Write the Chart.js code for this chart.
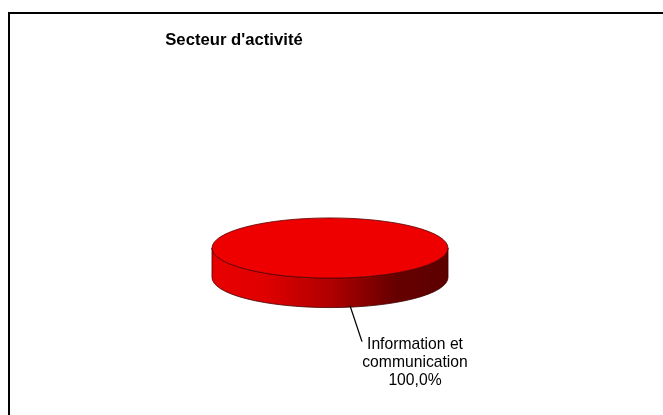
<!DOCTYPE html>
<html>
<head>
<meta charset="utf-8">
<script src="https://cdn.jsdelivr.net/npm/chart.js@4/dist/chart.umd.min.js"></script>
<style>
    body { margin: 0; background: #fff; }
    #frame {
        position: absolute; left: 8px; top: 12px; width: 700px; height: 500px;
        border: 2px solid #000; box-sizing: border-box;
    }
    #holder { position: absolute; left: 0; top: 0; width: 663px; height: 415px; }
</style>
</head>
<body>
<div id="frame"></div>
<div id="holder"><canvas id="pie-chart" width="663" height="415"></canvas></div>
<script>
// data
const sectors = ["Information et communication"];
const shares = [100];
const slice_colors = ["#EE0000"];
const title_text = "Secteur d'activité";

// how flat the pie looks and how thick it is (relative to radius)
const tilt = 0.255;
const thickness = 0.25;

let font_family = "'Liberation Sans', Arial, sans-serif";

/**
 * Fake the Excel 3D look: squash the pie and draw its side.
 */
const pie3d = {
    id: "pie3d",
    beforeDatasetsDraw(chart) {
        let arc = chart.getDatasetMeta(0).data[0];
        let ctx = chart.ctx;
        let cx = arc.x, cy = arc.y, r = arc.outerRadius;
        let ry = r * tilt, d = r * thickness;

        // side band
        let grad = ctx.createLinearGradient(cx - r, 0, cx + r, 0);
        grad.addColorStop(0, "#E80000");
        grad.addColorStop(0.22, "#E00000");
        grad.addColorStop(0.5, "#B00000");
        grad.addColorStop(0.78, "#660000");
        grad.addColorStop(1, "#5C0000");

        ctx.save();
        ctx.beginPath();
        ctx.ellipse(cx, cy, r, ry, 0, 0, Math.PI);
        ctx.lineTo(cx - r, cy + d);
        ctx.ellipse(cx, cy + d, r, ry, 0, Math.PI, 0, true);
        ctx.closePath();
        ctx.fillStyle = grad;
        ctx.fill();
        ctx.lineWidth = 0.8;
        ctx.strokeStyle = "#400000";
        ctx.stroke();
        ctx.restore();

        // squash what the library draws next
        ctx.save();
        ctx.translate(cx, cy);
        ctx.scale(1, tilt);
        ctx.translate(-cx, -cy);
    },
    afterDatasetsDraw(chart) {
        let ctx = chart.ctx;
        ctx.restore();

        let arc = chart.getDatasetMeta(0).data[0];
        ctx.save();
        ctx.beginPath();
        ctx.ellipse(arc.x, arc.y, arc.outerRadius, arc.outerRadius * tilt, 0, 0, Math.PI * 2);
        ctx.lineWidth = 0.8;
        ctx.strokeStyle = "#5a0000";
        ctx.stroke();
        ctx.restore();
    }
};

/**
 * Title and the data label with its leader line.
 */
const labels_plugin = {
    id: "labels_plugin",
    afterDraw(chart) {
        let ctx = chart.ctx;
        let arc = chart.getDatasetMeta(0).data[0];
        let cx = arc.x, cy = arc.y, r = arc.outerRadius;
        let bottom = cy + r * tilt + r * thickness;

        ctx.save();
        ctx.fillStyle = "#000";
        ctx.textAlign = "center";
        ctx.textBaseline = "middle";
        ctx.font = `bold 16.7px ${font_family}`;
        ctx.fillText(title_text, 234, 40);

        // leader line
        ctx.beginPath();
        ctx.moveTo(cx + 20, bottom - 2);
        ctx.lineTo(cx + 32, bottom + 34);
        ctx.lineWidth = 1.3;
        ctx.strokeStyle = "#000";
        ctx.stroke();

        let total = shares.reduce((a, b) => a + b, 0);
        let pct = (shares[0] / total * 100).toFixed(1).replace(".", ",") + "%";
        let lines = ["Information et", "communication", pct];
        ctx.font = `15.7px ${font_family}`;
        lines.forEach((line, i) => {
            ctx.fillText(line, cx + 85, bottom + 37 + i * 18);
        });
        ctx.restore();
    }
};

new Chart(document.querySelector("#pie-chart"), {
    type: "pie",
    data: {
        labels: sectors,
        datasets: [{
            data: shares,
            backgroundColor: slice_colors,
            borderWidth: 0
        }]
    },
    options: {
        responsive: false,
        animation: false,
        layout: {
            padding: { left: 212, right: 215, top: 130, bottom: 49 }
        },
        plugins: {
            legend: { display: false },
            title: { display: false },
            tooltip: { enabled: false }
        }
    },
    plugins: [pie3d, labels_plugin]
});
</script>
</body>
</html>
